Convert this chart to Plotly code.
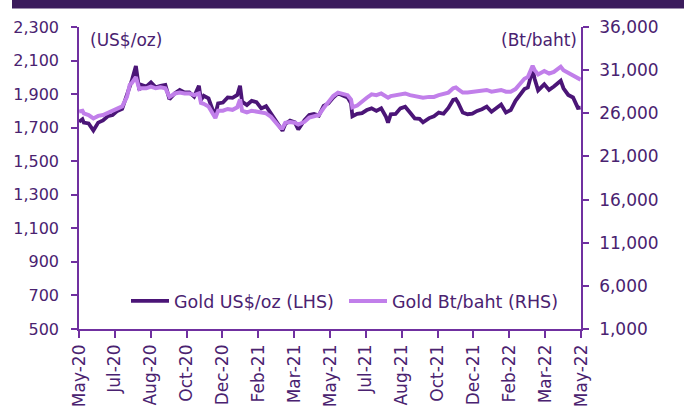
import plotly.graph_objects as go
import pandas as pd

dates = [
    "2020-05-15", "2020-05-20", "2020-05-22", "2020-05-29", "2020-06-05", "2020-06-10",
    "2020-06-12", "2020-06-19", "2020-06-26", "2020-07-03", "2020-07-10", "2020-07-17",
    "2020-07-24", "2020-07-28", "2020-07-31", "2020-08-06", "2020-08-11", "2020-08-14",
    "2020-08-21", "2020-08-28", "2020-09-04", "2020-09-11", "2020-09-18", "2020-09-24",
    "2020-10-02", "2020-10-09", "2020-10-16", "2020-10-23", "2020-10-30", "2020-11-06",
    "2020-11-09", "2020-11-13", "2020-11-20", "2020-11-27", "2020-11-30", "2020-12-04",
    "2020-12-11", "2020-12-18", "2020-12-25", "2021-01-01", "2021-01-05", "2021-01-08",
    "2021-01-15", "2021-01-22", "2021-01-29", "2021-02-05", "2021-02-12", "2021-02-19",
    "2021-02-26", "2021-03-05", "2021-03-08", "2021-03-12", "2021-03-19", "2021-03-26",
    "2021-03-31", "2021-04-09", "2021-04-16", "2021-04-23", "2021-04-30", "2021-05-07",
    "2021-05-14", "2021-05-21", "2021-05-28", "2021-06-04", "2021-06-11", "2021-06-16",
    "2021-06-18", "2021-06-25", "2021-07-02", "2021-07-09", "2021-07-16", "2021-07-23",
    "2021-07-30", "2021-08-06", "2021-08-09", "2021-08-13", "2021-08-20", "2021-08-27",
    "2021-09-03", "2021-09-10", "2021-09-17", "2021-09-24", "2021-09-29", "2021-10-08",
    "2021-10-15", "2021-10-22", "2021-10-29", "2021-11-05", "2021-11-12", "2021-11-16",
    "2021-11-19", "2021-11-26", "2021-12-03", "2021-12-10", "2021-12-17", "2021-12-24",
    "2021-12-31", "2022-01-07", "2022-01-14", "2022-01-21", "2022-01-28", "2022-02-04",
    "2022-02-11", "2022-02-18", "2022-02-24", "2022-03-01", "2022-03-08", "2022-03-11",
    "2022-03-16", "2022-03-25", "2022-04-01", "2022-04-08", "2022-04-18", "2022-04-22",
    "2022-04-29", "2022-05-06", "2022-05-13", "2022-05-17",
]

gold_usd = [
    1735, 1750, 1730, 1725, 1683, 1718,
    1730, 1743, 1768, 1775, 1800, 1812,
    1895, 1955, 1980, 2067, 1925, 1955,
    1945, 1970, 1940, 1950, 1955, 1870,
    1905, 1925, 1910, 1910, 1885, 1950,
    1865, 1890, 1875, 1795, 1780, 1845,
    1850, 1880, 1878, 1895, 1950, 1855,
    1835, 1860, 1852, 1815, 1828, 1785,
    1740, 1698, 1682, 1722, 1742, 1732,
    1690, 1745, 1775, 1782, 1772, 1830,
    1845, 1880, 1905, 1892, 1880, 1845,
    1768, 1782, 1787, 1805, 1815, 1800,
    1815, 1765, 1730, 1780, 1782, 1815,
    1825, 1790, 1755, 1752, 1732, 1757,
    1768, 1790, 1783, 1818, 1865, 1870,
    1850, 1790, 1780, 1783, 1800, 1810,
    1825, 1795, 1820, 1838, 1790, 1805,
    1860, 1895, 1930, 1940, 2045, 1990,
    1922, 1958, 1925, 1945, 1980, 1935,
    1895, 1880, 1818, 1820,
]

gold_thb = [
    26200, 26300, 26000, 25800, 25400, 25650,
    25700, 25800, 26050, 26250, 26600, 26800,
    27900, 29300, 29500, 30200, 28800, 28900,
    28900, 29100, 28900, 29000, 28900, 27900,
    28300, 28400, 28300, 28300, 28100, 28300,
    27200, 27100, 26800, 25700, 25450, 26300,
    26300, 26500, 26400, 26700, 27600, 26300,
    26100, 26300, 26200, 26000, 26000, 25600,
    25000, 24300, 24300, 24900, 25000, 24900,
    24700, 25000, 25500, 25700, 25800, 26600,
    27300, 28000, 28400, 28300, 28100, 27600,
    26700, 26900, 27400, 27800, 28200, 28100,
    28300, 28000, 27800, 28000, 28100, 28200,
    28300, 28100, 28000, 27900, 27800, 27900,
    27900, 28100, 28200, 28400, 28900, 29000,
    28800, 28400, 28400, 28500, 28500, 28600,
    28700, 28500, 28600, 28700, 28500, 28500,
    28800, 29400, 30000, 30200, 31500, 31000,
    30500, 30900, 30600, 30800, 31400, 31000,
    30700, 30400, 30000, 29900,
]

x_start = "2020-05-15"
x_end = "2022-05-17 14:00"
tick_labels = ["May-20", "Jul-20", "Aug-20", "Oct-20", "Dec-20", "Feb-21", "Mar-21", "May-21",
               "Jul-21", "Aug-21", "Oct-21", "Dec-21", "Feb-22", "Mar-22", "May-22"]

t0 = pd.Timestamp(x_start)
t1 = pd.Timestamp(x_end)
n = len(tick_labels) - 1
tick_vals = [(t0 + (t1 - t0) * k / n).strftime("%Y-%m-%d %H:%M:%S") for k in range(n + 1)]

DARK = "#4b1577"
LIGHT = "#c17fea"
AXIS = "#7030a0"
TEXT = "#4a2270"
FONT = "DejaVu Sans, Verdana, sans-serif"

fig = go.Figure()
fig.add_trace(go.Scatter(x=dates, y=gold_thb, name="Gold Bt/baht (RHS)", yaxis="y2",
                         mode="lines", line=dict(color=LIGHT, width=4), legendrank=2))
fig.add_trace(go.Scatter(x=dates, y=gold_usd, name="Gold US$/oz (LHS)", yaxis="y",
                         mode="lines", line=dict(color=DARK, width=3.8), legendrank=1))

L, R, T, B = 79, 103, 27, 78
W, H = 684, 407
pw, ph = W - L - R, H - T - B

def px_x(p):
    return (p - L) / pw

def px_y(p):
    return (H - B - p) / ph

fig.update_layout(
    width=W, height=H,
    margin=dict(l=L, r=R, t=T, b=B, pad=0, autoexpand=False),
    paper_bgcolor="white", plot_bgcolor="white",
    font=dict(family=FONT, size=17, color=TEXT),
    showlegend=True,
    legend=dict(orientation="h", x=px_x(126), xanchor="left", y=px_y(301), yanchor="middle",
                bgcolor="rgba(0,0,0,0)", font=dict(size=17.5, color=TEXT),
                itemwidth=38, entrywidth=165, entrywidthmode="pixels",
                traceorder="normal"),
    xaxis=dict(type="date", range=[x_start, x_end], tickmode="array",
               tickvals=tick_vals, ticktext=tick_labels, tickangle=-90, automargin=False,
               showgrid=False, zeroline=False, showline=True, linecolor=AXIS, linewidth=1.5,
               ticks="outside", ticklen=7, tickcolor=AXIS, tickwidth=1.5,
               tickfont=dict(size=17, color=TEXT)),
    yaxis=dict(range=[500, 2300], dtick=200, tick0=500, tickformat=",", automargin=False,
               showgrid=False, zeroline=False, showline=True, linecolor=AXIS, linewidth=1.5,
               ticks="outside", ticklen=6, tickcolor=AXIS, tickwidth=1.5, ticklabelstandoff=9,
               tickfont=dict(size=16, color=TEXT)),
    yaxis2=dict(range=[1000, 36000], dtick=5000, tick0=1000, tickformat=",", automargin=False,
                overlaying="y", side="right",
                showgrid=False, zeroline=False, showline=True, linecolor=AXIS, linewidth=1.5,
                ticks="outside", ticklen=6, tickcolor=AXIS, tickwidth=1.5, ticklabelstandoff=7,
                tickfont=dict(size=17, color=TEXT)),
    shapes=[dict(type="rect", xref="paper", yref="paper",
                 x0=px_x(12), x1=px_x(690), y0=px_y(8.5), y1=px_y(-2),
                 fillcolor="#3b1b5c", line=dict(width=0), layer="above")],
    annotations=[
        dict(text="(US$/oz)", xref="paper", yref="paper", x=px_x(88), y=px_y(40),
             xanchor="left", yanchor="middle", showarrow=False,
             font=dict(size=17, color=TEXT)),
        dict(text="(Bt/baht)", xref="paper", yref="paper", x=px_x(579), y=px_y(40),
             xanchor="right", yanchor="middle", showarrow=False,
             font=dict(size=17, color=TEXT)),
    ],
)

fig.write_html("out.html", config={"displayModeBar": False},
               post_script="document.body.style.margin='0';document.body.style.overflow='hidden';")
